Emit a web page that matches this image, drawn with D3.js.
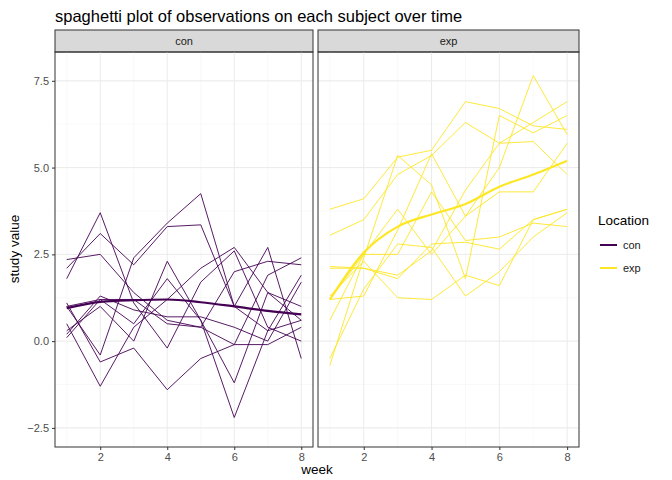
<!DOCTYPE html><html><head><meta charset="utf-8"><script src="https://cdn.jsdelivr.net/npm/d3@7"></script>
<style>body{margin:0;font-family:"Liberation Sans",Arial,sans-serif}</style></head><body><svg id="c" width="672" height="480"></svg>
<script>
const weeks=[1,2,3,4,5,6,7,8];
const conSeries=[
[1.8,3.7,1.1,-0.2,1.7,2.6,0.4,0.0],
[2.35,2.5,1.4,0.6,0.4,2.0,2.3,2.2],
[2.1,3.1,2.2,3.3,3.35,1.0,0.3,0.6],
[1.0,-0.4,2.4,3.4,4.25,1.0,2.7,-0.5],
[0.5,-1.3,0.4,1.2,2.1,2.7,1.4,1.0],
[0.1,1.2,1.2,0.5,0.4,-0.1,-0.1,0.4],
[0.2,1.3,0.9,0.7,0.7,0.4,0.0,1.7],
[1.1,-0.6,-0.2,-1.4,-0.5,-0.1,1.9,2.4],
[1.0,1.2,0.5,1.8,0.6,-1.2,1.4,0.6],
[0.3,1.0,0.0,2.3,0.6,-2.2,0.3,1.9]];
const expSeries=[
[3.8,4.1,5.3,5.5,6.9,6.7,6.2,6.1],
[3.05,3.5,4.8,5.35,6.3,5.7,6.3,6.9],
[1.2,1.3,3.2,5.4,3.6,5.0,7.65,5.95],
[2.15,2.1,1.9,2.6,4.35,5.7,5.75,4.8],
[-0.7,2.4,5.35,4.5,1.8,6.5,6.0,6.5],
[1.2,2.5,3.8,2.5,3.6,4.3,4.3,5.7],
[0.6,2.5,2.5,4.3,2.9,3.0,3.4,3.3],
[2.1,2.1,1.8,2.8,2.85,2.65,3.5,3.8],
[1.3,2.3,1.25,1.2,1.9,1.6,3.5,3.8],
[-0.5,1.5,2.8,2.7,1.3,2.0,3.0,3.7]];
const conSmooth=[0.95,1.13,1.18,1.2,1.12,1.0,0.87,0.77];
const expSmooth=[1.2,2.55,3.3,3.65,3.95,4.45,4.8,5.2];
const yTicks=[-2.5,0,2.5,5,7.5];
const xTicks=[2,4,6,8];
const svg=d3.select("#c");
svg.append("rect").attr("width",672).attr("height",480).attr("fill","#fff");
svg.append("text").attr("x",55).attr("y",22).attr("font-size",16.5).text("spaghetti plot of observations on each subject over time");
const y=d3.scaleLinear().domain([-3.05,8.33]).range([447,52]);
const panels=[{name:"con",x0:55,x1:313,data:conSeries,sm:conSmooth,col:"#440154"},{name:"exp",x0:318,x1:579,data:expSeries,sm:expSmooth,col:"#FDE725"}];
panels.forEach(p=>{
 const x=d3.scaleLinear().domain([0.65,8.35]).range([p.x0,p.x1]);
 const g=svg.append("g");
 g.append("rect").attr("x",p.x0).attr("y",30).attr("width",p.x1-p.x0).attr("height",22).attr("fill","#d9d9d9").attr("stroke","#333").attr("stroke-width",1);
 g.append("text").attr("x",(p.x0+p.x1)/2).attr("y",45).attr("text-anchor","middle").attr("font-size",11).attr("fill","#1a1a1a").text(p.name);
 const minorY=d3.range(-3.75,8.5,1.25).filter(v=>v>-3.05&&v<8.33), minorX=[1,3,5,7];
 minorY.forEach(v=>g.append("line").attr("x1",p.x0).attr("x2",p.x1).attr("y1",y(v)).attr("y2",y(v)).attr("stroke","#f2f2f2").attr("stroke-width",0.5));
 minorX.forEach(v=>g.append("line").attr("y1",52).attr("y2",447).attr("x1",x(v)).attr("x2",x(v)).attr("stroke","#f2f2f2").attr("stroke-width",0.5));
 yTicks.forEach(v=>g.append("line").attr("x1",p.x0).attr("x2",p.x1).attr("y1",y(v)).attr("y2",y(v)).attr("stroke","#ebebeb"));
 xTicks.forEach(v=>g.append("line").attr("y1",52).attr("y2",447).attr("x1",x(v)).attr("x2",x(v)).attr("stroke","#ebebeb"));
 const line=d3.line().x((d,i)=>x(weeks[i])).y(d=>y(d));
 p.data.forEach(s=>g.append("path").attr("d",line(s)).attr("fill","none").attr("stroke",p.col).attr("stroke-width",0.9));
 g.append("path").attr("d",line.curve(d3.curveMonotoneX)(p.sm)).attr("fill","none").attr("stroke",p.col).attr("stroke-width",2.2);
 g.append("rect").attr("x",p.x0).attr("y",52).attr("width",p.x1-p.x0).attr("height",395).attr("fill","none").attr("stroke","#333");
 const ax=g.append("g").attr("transform","translate(0,447)").call(d3.axisBottom(x).tickValues(xTicks).tickSize(3).tickFormat(d3.format("d")));
 ax.select(".domain").remove();ax.selectAll("text").attr("font-size",11).attr("fill","#4d4d4d");ax.selectAll("line").attr("stroke","#333");
 if(p.name==="con"){
  const ay=g.append("g").attr("transform","translate(55,0)").call(d3.axisLeft(y).tickValues(yTicks).tickSize(3).tickFormat(d3.format(".1f")));
  ay.select(".domain").remove();ay.selectAll("text").attr("font-size",11).attr("fill","#4d4d4d");ay.selectAll("line").attr("stroke","#333");
 }
});
svg.append("text").attr("x",317).attr("y",474).attr("text-anchor","middle").attr("font-size",13.5).text("week");
svg.append("text").attr("transform","translate(19,249) rotate(-90)").attr("text-anchor","middle").attr("font-size",13.5).text("study value");
svg.append("text").attr("x",598).attr("y",225).attr("font-size",13.5).text("Location");
[["con","#440154",245],["exp","#FDE725",268]].forEach(([n,c,yy])=>{
 svg.append("line").attr("x1",600).attr("x2",617).attr("y1",yy).attr("y2",yy).attr("stroke",c).attr("stroke-width",2);
 svg.append("text").attr("x",623).attr("y",yy+4).attr("font-size",11).attr("fill","#1a1a1a").text(n);
});
</script></body></html>
